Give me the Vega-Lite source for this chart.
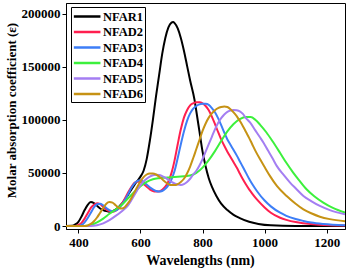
{
  "$schema": "https://vega.github.io/schema/vega-lite/v6.json",
  "autosize": {"type": "none"},
  "width": 279,
  "height": 226,
  "padding": {"left": 66, "top": 3, "right": 3, "bottom": 40},
  "background": "white",
  "config": {
    "view": {"stroke": "black", "strokeWidth": 1},
    "font": "Liberation Serif"
  },
  "data": {"values": [
    {"s":"NFAR1","w":360,"e":0},{"s":"NFAR1","w":380,"e":200},{"s":"NFAR1","w":390,"e":1500},{"s":"NFAR1","w":400,"e":4000},{"s":"NFAR1","w":410,"e":9000},{"s":"NFAR1","w":420,"e":15000},{"s":"NFAR1","w":430,"e":20000},{"s":"NFAR1","w":440,"e":22500},{"s":"NFAR1","w":450,"e":21500},{"s":"NFAR1","w":460,"e":19000},{"s":"NFAR1","w":470,"e":16500},{"s":"NFAR1","w":480,"e":15000},{"s":"NFAR1","w":490,"e":14000},{"s":"NFAR1","w":500,"e":13500},{"s":"NFAR1","w":510,"e":14000},{"s":"NFAR1","w":520,"e":15500},{"s":"NFAR1","w":530,"e":18000},{"s":"NFAR1","w":540,"e":21000},{"s":"NFAR1","w":550,"e":25000},{"s":"NFAR1","w":560,"e":29500},{"s":"NFAR1","w":570,"e":34000},{"s":"NFAR1","w":580,"e":38500},{"s":"NFAR1","w":590,"e":42500},{"s":"NFAR1","w":600,"e":46500},{"s":"NFAR1","w":610,"e":52000},{"s":"NFAR1","w":620,"e":63000},{"s":"NFAR1","w":630,"e":80000},{"s":"NFAR1","w":640,"e":100000},{"s":"NFAR1","w":650,"e":122000},{"s":"NFAR1","w":660,"e":142000},{"s":"NFAR1","w":670,"e":162000},{"s":"NFAR1","w":680,"e":177000},{"s":"NFAR1","w":690,"e":187000},{"s":"NFAR1","w":700,"e":191500},{"s":"NFAR1","w":705,"e":192000},{"s":"NFAR1","w":710,"e":191000},{"s":"NFAR1","w":720,"e":186000},{"s":"NFAR1","w":730,"e":177000},{"s":"NFAR1","w":740,"e":165000},{"s":"NFAR1","w":750,"e":151000},{"s":"NFAR1","w":760,"e":137000},{"s":"NFAR1","w":774,"e":119000},{"s":"NFAR1","w":780,"e":108000},{"s":"NFAR1","w":790,"e":89000},{"s":"NFAR1","w":800,"e":70000},{"s":"NFAR1","w":810,"e":56000},{"s":"NFAR1","w":820,"e":45000},{"s":"NFAR1","w":830,"e":37000},{"s":"NFAR1","w":845,"e":28000},{"s":"NFAR1","w":860,"e":21000},{"s":"NFAR1","w":880,"e":15000},{"s":"NFAR1","w":900,"e":10500},{"s":"NFAR1","w":920,"e":7500},{"s":"NFAR1","w":950,"e":4000},{"s":"NFAR1","w":980,"e":2000},{"s":"NFAR1","w":1020,"e":700},{"s":"NFAR1","w":1100,"e":100},{"s":"NFAR1","w":1259,"e":0},

    {"s":"NFAD2","w":360,"e":0},{"s":"NFAD2","w":390,"e":0},{"s":"NFAD2","w":400,"e":1000},{"s":"NFAD2","w":410,"e":3000},{"s":"NFAD2","w":420,"e":7000},{"s":"NFAD2","w":430,"e":12000},{"s":"NFAD2","w":440,"e":17000},{"s":"NFAD2","w":450,"e":20000},{"s":"NFAD2","w":460,"e":21500},{"s":"NFAD2","w":470,"e":20500},{"s":"NFAD2","w":480,"e":18000},{"s":"NFAD2","w":490,"e":15500},{"s":"NFAD2","w":500,"e":14000},{"s":"NFAD2","w":510,"e":13500},{"s":"NFAD2","w":520,"e":14500},{"s":"NFAD2","w":530,"e":17000},{"s":"NFAD2","w":540,"e":21000},{"s":"NFAD2","w":550,"e":26000},{"s":"NFAD2","w":560,"e":31500},{"s":"NFAD2","w":570,"e":36500},{"s":"NFAD2","w":580,"e":40500},{"s":"NFAD2","w":590,"e":42000},{"s":"NFAD2","w":600,"e":41500},{"s":"NFAD2","w":610,"e":39500},{"s":"NFAD2","w":620,"e":37000},{"s":"NFAD2","w":630,"e":34500},{"s":"NFAD2","w":640,"e":33000},{"s":"NFAD2","w":650,"e":32500},{"s":"NFAD2","w":660,"e":32500},{"s":"NFAD2","w":670,"e":34000},{"s":"NFAD2","w":680,"e":37000},{"s":"NFAD2","w":690,"e":42000},{"s":"NFAD2","w":700,"e":50000},{"s":"NFAD2","w":710,"e":62000},{"s":"NFAD2","w":720,"e":77000},{"s":"NFAD2","w":730,"e":91000},{"s":"NFAD2","w":740,"e":102000},{"s":"NFAD2","w":750,"e":109000},{"s":"NFAD2","w":760,"e":113500},{"s":"NFAD2","w":770,"e":115500},{"s":"NFAD2","w":780,"e":116500},{"s":"NFAD2","w":790,"e":116500},{"s":"NFAD2","w":800,"e":115500},{"s":"NFAD2","w":810,"e":113000},{"s":"NFAD2","w":820,"e":109000},{"s":"NFAD2","w":830,"e":103000},{"s":"NFAD2","w":840,"e":96000},{"s":"NFAD2","w":850,"e":88500},{"s":"NFAD2","w":860,"e":81500},{"s":"NFAD2","w":870,"e":75500},{"s":"NFAD2","w":880,"e":70000},{"s":"NFAD2","w":890,"e":65000},{"s":"NFAD2","w":900,"e":60000},{"s":"NFAD2","w":910,"e":55000},{"s":"NFAD2","w":920,"e":49500},{"s":"NFAD2","w":930,"e":44000},{"s":"NFAD2","w":940,"e":39000},{"s":"NFAD2","w":950,"e":34500},{"s":"NFAD2","w":960,"e":30500},{"s":"NFAD2","w":975,"e":25000},{"s":"NFAD2","w":1000,"e":17500},{"s":"NFAD2","w":1020,"e":12500},{"s":"NFAD2","w":1050,"e":7800},{"s":"NFAD2","w":1070,"e":5800},{"s":"NFAD2","w":1100,"e":3700},{"s":"NFAD2","w":1125,"e":2600},{"s":"NFAD2","w":1175,"e":1200},{"s":"NFAD2","w":1259,"e":400},

    {"s":"NFAD3","w":360,"e":0},{"s":"NFAD3","w":400,"e":0},{"s":"NFAD3","w":410,"e":1000},{"s":"NFAD3","w":420,"e":3500},{"s":"NFAD3","w":430,"e":7500},{"s":"NFAD3","w":440,"e":12500},{"s":"NFAD3","w":450,"e":17500},{"s":"NFAD3","w":460,"e":20500},{"s":"NFAD3","w":470,"e":21000},{"s":"NFAD3","w":480,"e":19500},{"s":"NFAD3","w":490,"e":17000},{"s":"NFAD3","w":500,"e":15000},{"s":"NFAD3","w":510,"e":14000},{"s":"NFAD3","w":520,"e":14500},{"s":"NFAD3","w":530,"e":16500},{"s":"NFAD3","w":540,"e":20000},{"s":"NFAD3","w":550,"e":24500},{"s":"NFAD3","w":560,"e":30000},{"s":"NFAD3","w":570,"e":35500},{"s":"NFAD3","w":580,"e":40000},{"s":"NFAD3","w":590,"e":42500},{"s":"NFAD3","w":600,"e":43000},{"s":"NFAD3","w":610,"e":41500},{"s":"NFAD3","w":620,"e":39000},{"s":"NFAD3","w":630,"e":36500},{"s":"NFAD3","w":640,"e":34500},{"s":"NFAD3","w":650,"e":33000},{"s":"NFAD3","w":660,"e":32500},{"s":"NFAD3","w":670,"e":33000},{"s":"NFAD3","w":680,"e":35000},{"s":"NFAD3","w":690,"e":38500},{"s":"NFAD3","w":700,"e":44000},{"s":"NFAD3","w":710,"e":52000},{"s":"NFAD3","w":720,"e":64000},{"s":"NFAD3","w":730,"e":77000},{"s":"NFAD3","w":740,"e":89000},{"s":"NFAD3","w":750,"e":99000},{"s":"NFAD3","w":760,"e":106000},{"s":"NFAD3","w":770,"e":110500},{"s":"NFAD3","w":780,"e":113000},{"s":"NFAD3","w":790,"e":114500},{"s":"NFAD3","w":800,"e":115000},{"s":"NFAD3","w":810,"e":115000},{"s":"NFAD3","w":820,"e":114000},{"s":"NFAD3","w":830,"e":111000},{"s":"NFAD3","w":840,"e":107000},{"s":"NFAD3","w":850,"e":101500},{"s":"NFAD3","w":860,"e":95000},{"s":"NFAD3","w":870,"e":88000},{"s":"NFAD3","w":880,"e":81500},{"s":"NFAD3","w":890,"e":76500},{"s":"NFAD3","w":900,"e":71500},{"s":"NFAD3","w":910,"e":66500},{"s":"NFAD3","w":920,"e":61000},{"s":"NFAD3","w":930,"e":55500},{"s":"NFAD3","w":940,"e":50000},{"s":"NFAD3","w":950,"e":44500},{"s":"NFAD3","w":960,"e":39500},{"s":"NFAD3","w":975,"e":33000},{"s":"NFAD3","w":1000,"e":24000},{"s":"NFAD3","w":1020,"e":18500},{"s":"NFAD3","w":1050,"e":12500},{"s":"NFAD3","w":1070,"e":9600},{"s":"NFAD3","w":1100,"e":6600},{"s":"NFAD3","w":1125,"e":4800},{"s":"NFAD3","w":1150,"e":3300},{"s":"NFAD3","w":1190,"e":1900},{"s":"NFAD3","w":1259,"e":800},

    {"s":"NFAD4","w":360,"e":0},{"s":"NFAD4","w":420,"e":0},{"s":"NFAD4","w":440,"e":1000},{"s":"NFAD4","w":460,"e":3500},{"s":"NFAD4","w":480,"e":7000},{"s":"NFAD4","w":500,"e":11500},{"s":"NFAD4","w":520,"e":15500},{"s":"NFAD4","w":540,"e":20000},{"s":"NFAD4","w":560,"e":26000},{"s":"NFAD4","w":580,"e":32000},{"s":"NFAD4","w":600,"e":37500},{"s":"NFAD4","w":620,"e":41500},{"s":"NFAD4","w":640,"e":44000},{"s":"NFAD4","w":660,"e":45000},{"s":"NFAD4","w":680,"e":45500},{"s":"NFAD4","w":700,"e":46000},{"s":"NFAD4","w":720,"e":46300},{"s":"NFAD4","w":740,"e":46800},{"s":"NFAD4","w":760,"e":47500},{"s":"NFAD4","w":780,"e":50000},{"s":"NFAD4","w":800,"e":55000},{"s":"NFAD4","w":820,"e":62000},{"s":"NFAD4","w":840,"e":70500},{"s":"NFAD4","w":860,"e":80000},{"s":"NFAD4","w":880,"e":89000},{"s":"NFAD4","w":900,"e":96000},{"s":"NFAD4","w":920,"e":100500},{"s":"NFAD4","w":940,"e":102500},{"s":"NFAD4","w":955,"e":102500},{"s":"NFAD4","w":970,"e":100000},{"s":"NFAD4","w":985,"e":95500},{"s":"NFAD4","w":1006,"e":88000},{"s":"NFAD4","w":1025,"e":80000},{"s":"NFAD4","w":1049,"e":69200},{"s":"NFAD4","w":1070,"e":59500},{"s":"NFAD4","w":1092,"e":50300},{"s":"NFAD4","w":1110,"e":43500},{"s":"NFAD4","w":1135,"e":34600},{"s":"NFAD4","w":1160,"e":28000},{"s":"NFAD4","w":1189,"e":22000},{"s":"NFAD4","w":1220,"e":17000},{"s":"NFAD4","w":1259,"e":12600},

    {"s":"NFAD5","w":360,"e":0},{"s":"NFAD5","w":440,"e":0},{"s":"NFAD5","w":460,"e":700},{"s":"NFAD5","w":480,"e":2500},{"s":"NFAD5","w":500,"e":5500},{"s":"NFAD5","w":520,"e":9500},{"s":"NFAD5","w":540,"e":14000},{"s":"NFAD5","w":560,"e":19500},{"s":"NFAD5","w":570,"e":24000},{"s":"NFAD5","w":580,"e":29000},{"s":"NFAD5","w":590,"e":34000},{"s":"NFAD5","w":600,"e":38500},{"s":"NFAD5","w":610,"e":42000},{"s":"NFAD5","w":620,"e":44500},{"s":"NFAD5","w":630,"e":46500},{"s":"NFAD5","w":640,"e":47800},{"s":"NFAD5","w":650,"e":48200},{"s":"NFAD5","w":660,"e":48000},{"s":"NFAD5","w":670,"e":47000},{"s":"NFAD5","w":680,"e":45500},{"s":"NFAD5","w":690,"e":43500},{"s":"NFAD5","w":700,"e":41500},{"s":"NFAD5","w":710,"e":40000},{"s":"NFAD5","w":720,"e":39000},{"s":"NFAD5","w":730,"e":38700},{"s":"NFAD5","w":740,"e":39500},{"s":"NFAD5","w":750,"e":41500},{"s":"NFAD5","w":760,"e":44500},{"s":"NFAD5","w":770,"e":48500},{"s":"NFAD5","w":780,"e":52000},{"s":"NFAD5","w":790,"e":57000},{"s":"NFAD5","w":800,"e":63000},{"s":"NFAD5","w":810,"e":70000},{"s":"NFAD5","w":820,"e":77000},{"s":"NFAD5","w":830,"e":84000},{"s":"NFAD5","w":840,"e":91000},{"s":"NFAD5","w":850,"e":97000},{"s":"NFAD5","w":860,"e":101500},{"s":"NFAD5","w":870,"e":105000},{"s":"NFAD5","w":880,"e":107500},{"s":"NFAD5","w":890,"e":108800},{"s":"NFAD5","w":900,"e":109300},{"s":"NFAD5","w":910,"e":109000},{"s":"NFAD5","w":920,"e":108000},{"s":"NFAD5","w":930,"e":105500},{"s":"NFAD5","w":940,"e":101500},{"s":"NFAD5","w":953,"e":97500},{"s":"NFAD5","w":970,"e":90000},{"s":"NFAD5","w":985,"e":83500},{"s":"NFAD5","w":996,"e":78600},{"s":"NFAD5","w":1010,"e":71500},{"s":"NFAD5","w":1025,"e":64000},{"s":"NFAD5","w":1039,"e":56600},{"s":"NFAD5","w":1060,"e":48500},{"s":"NFAD5","w":1082,"e":40900},{"s":"NFAD5","w":1100,"e":35500},{"s":"NFAD5","w":1125,"e":28300},{"s":"NFAD5","w":1150,"e":23500},{"s":"NFAD5","w":1178,"e":18900},{"s":"NFAD5","w":1210,"e":15000},{"s":"NFAD5","w":1259,"e":11000},

    {"s":"NFAD6","w":360,"e":0},{"s":"NFAD6","w":420,"e":0},{"s":"NFAD6","w":430,"e":500},{"s":"NFAD6","w":440,"e":2000},{"s":"NFAD6","w":450,"e":4500},{"s":"NFAD6","w":460,"e":8000},{"s":"NFAD6","w":470,"e":12500},{"s":"NFAD6","w":480,"e":17000},{"s":"NFAD6","w":490,"e":21000},{"s":"NFAD6","w":500,"e":22500},{"s":"NFAD6","w":510,"e":22000},{"s":"NFAD6","w":520,"e":19500},{"s":"NFAD6","w":530,"e":17000},{"s":"NFAD6","w":540,"e":16500},{"s":"NFAD6","w":550,"e":18000},{"s":"NFAD6","w":560,"e":21500},{"s":"NFAD6","w":570,"e":26000},{"s":"NFAD6","w":580,"e":31500},{"s":"NFAD6","w":590,"e":37000},{"s":"NFAD6","w":600,"e":42000},{"s":"NFAD6","w":610,"e":46000},{"s":"NFAD6","w":620,"e":48500},{"s":"NFAD6","w":630,"e":49500},{"s":"NFAD6","w":640,"e":49500},{"s":"NFAD6","w":650,"e":48500},{"s":"NFAD6","w":660,"e":46500},{"s":"NFAD6","w":670,"e":44000},{"s":"NFAD6","w":680,"e":41500},{"s":"NFAD6","w":690,"e":39500},{"s":"NFAD6","w":700,"e":38500},{"s":"NFAD6","w":710,"e":38500},{"s":"NFAD6","w":720,"e":39500},{"s":"NFAD6","w":730,"e":41500},{"s":"NFAD6","w":740,"e":44500},{"s":"NFAD6","w":750,"e":49500},{"s":"NFAD6","w":760,"e":56000},{"s":"NFAD6","w":770,"e":64000},{"s":"NFAD6","w":780,"e":72500},{"s":"NFAD6","w":790,"e":81000},{"s":"NFAD6","w":800,"e":89500},{"s":"NFAD6","w":810,"e":96500},{"s":"NFAD6","w":820,"e":102000},{"s":"NFAD6","w":830,"e":106000},{"s":"NFAD6","w":840,"e":109000},{"s":"NFAD6","w":850,"e":111000},{"s":"NFAD6","w":860,"e":112000},{"s":"NFAD6","w":870,"e":112500},{"s":"NFAD6","w":880,"e":112000},{"s":"NFAD6","w":890,"e":110000},{"s":"NFAD6","w":900,"e":107000},{"s":"NFAD6","w":910,"e":103500},{"s":"NFAD6","w":920,"e":99000},{"s":"NFAD6","w":930,"e":94000},{"s":"NFAD6","w":940,"e":88500},{"s":"NFAD6","w":950,"e":83000},{"s":"NFAD6","w":960,"e":77000},{"s":"NFAD6","w":970,"e":71000},{"s":"NFAD6","w":985,"e":63000},{"s":"NFAD6","w":1000,"e":55500},{"s":"NFAD6","w":1017,"e":47200},{"s":"NFAD6","w":1040,"e":37500},{"s":"NFAD6","w":1071,"e":28300},{"s":"NFAD6","w":1100,"e":21000},{"s":"NFAD6","w":1125,"e":15700},{"s":"NFAD6","w":1150,"e":12000},{"s":"NFAD6","w":1178,"e":8800},{"s":"NFAD6","w":1210,"e":6500},{"s":"NFAD6","w":1259,"e":4500}
  ]},
  "mark": {"type": "line", "strokeWidth": 2, "interpolate": "monotone", "clip": true},
  "encoding": {
    "x": {
      "field": "w", "type": "quantitative",
      "scale": {"domain": [360, 1259], "nice": false, "zero": false},
      "axis": {
        "title": "Wavelengths (nm)",
        "values": [400, 600, 800, 1000, 1200],
        "format": "d",
        "grid": false, "domainColor": "black", "tickColor": "black", "tickSize": 4,
        "labelFont": "Liberation Serif", "labelFontWeight": "bold", "labelFontSize": 13, "labelColor": "black", "labelPadding": 3,
        "titleFont": "Liberation Serif", "titleFontWeight": "bold", "titleFontSize": 14, "titleColor": "black", "titlePadding": 4,
        "titleX": 134
      }
    },
    "y": {
      "field": "e", "type": "quantitative",
      "scale": {"domain": [-2800, 209900], "nice": false, "zero": false},
      "axis": {
        "title": "Molar absorption coefficient (ε)",
        "values": [0, 50000, 100000, 150000, 200000],
        "format": "d",
        "grid": false, "domainColor": "black", "tickColor": "black", "tickSize": 4,
        "labelFont": "Liberation Serif", "labelFontWeight": "bold", "labelFontSize": 13, "labelColor": "black", "labelPadding": 2,
        "titleFont": "Liberation Serif", "titleFontWeight": "bold", "titleFontSize": 13, "titleColor": "black", "titlePadding": 3,
        "titleY": 107
      }
    },
    "color": {
      "field": "s", "type": "nominal",
      "scale": {
        "domain": ["NFAR1", "NFAD2", "NFAD3", "NFAD4", "NFAD5", "NFAD6"],
        "range": ["#000000", "#ff1f4f", "#3d7ef7", "#3cf03c", "#a47ef2", "#c69214"]
      },
      "legend": {
        "title": null, "orient": "none", "legendX": 5, "legendY": 4,
        "strokeColor": "black", "fillColor": "white", "padding": 1.5,
        "symbolType": "M-1,0H3", "symbolSize": 177, "symbolStrokeWidth": 2.5,
        "labelFont": "Liberation Serif", "labelFontWeight": "bold", "labelFontSize": 12.5, "labelColor": "black",
        "rowPadding": 0.5, "labelOffset": 14.5, "labelLimit": 60
      }
    }
  }
}
